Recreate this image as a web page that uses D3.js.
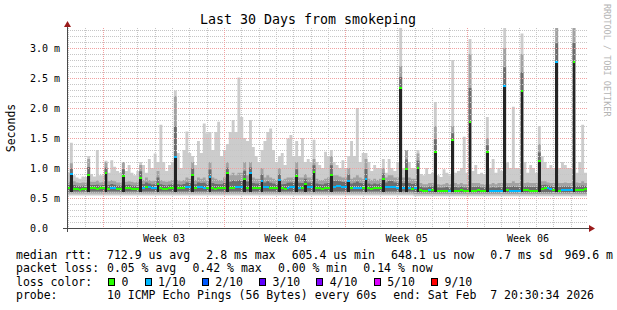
<!DOCTYPE html>
<html>
<head>
<meta charset="utf-8">
<script src="https://cdn.jsdelivr.net/npm/d3@7"></script>
<style>
  html, body { margin: 0; padding: 0; background: #fff; }
  svg { display: block; font-family: "DejaVu Sans Mono", monospace; }
  text { white-space: pre; }
</style>
</head>
<body>
<svg id="chart" width="617" height="310"></svg>
<script>
// 30 days, one value per 4 h step (6 per day), values in ms
const median = [
  0.66, 0.90, 0.65, 0.65, 0.64, 0.65,  0.65, 0.88, 0.66, 0.66, 0.65, 0.66,
  0.66, 0.91, 0.65, 0.67, 0.66, 0.65,  0.65, 0.86, 0.66, 0.66, 0.65, 0.65,
  0.65, 0.84, 0.67, 0.68, 0.68, 0.67,  0.67, 0.73, 0.66, 0.65, 0.65, 0.66,
  0.66, 1.19, 0.66, 0.66, 0.67, 0.68,  0.68, 0.88, 0.66, 0.68, 0.68, 0.67,
  0.66, 0.85, 0.66, 0.65, 0.66, 0.66,  0.66, 0.91, 0.66, 0.67, 0.68, 0.68,
  0.68, 0.81, 0.67, 0.92, 0.66, 0.66,  0.66, 0.78, 0.68, 0.68, 0.67, 0.66,
  0.66, 0.80, 0.66, 0.65, 0.67, 0.68,  0.68, 0.86, 0.67, 0.66, 0.74, 0.68,
  0.68, 0.94, 0.66, 0.66, 0.65, 0.66,  0.66, 0.89, 0.69, 0.70, 0.70, 0.69,
  0.69, 0.78, 0.66, 0.67, 0.67, 0.66,  0.66, 0.82, 0.66, 0.65, 0.66, 0.66,
  0.66, 0.82, 0.68, 0.69, 0.69, 0.68,  0.67, 2.33, 0.66, 0.98, 0.66, 0.65,
  0.66, 1.00, 0.63, 0.62, 0.62, 0.63,  0.63, 1.26, 0.62, 0.62, 0.62, 0.62,
  0.61, 1.46, 0.62, 0.62, 0.63, 0.62,  0.62, 1.77, 0.62, 0.62, 0.63, 0.62,
  0.62, 1.26, 0.61, 0.61, 0.61, 0.61,  0.61, 2.36, 0.63, 0.62, 0.62, 0.62,
  0.62, 2.29, 0.63, 0.63, 0.62, 0.62,  0.62, 1.12, 0.65, 0.66, 0.66, 0.65,
  0.63, 2.76, 0.62, 0.63, 0.63, 0.63,  0.63, 2.77, 0.63, 0.64, 0.64, 0.65
];
// loss colour index per step (0 = no loss, 1 = 1/10 ...)
const lossIdx = [
  0, 1, 0, 0, 0, 0,  0, 0, 0, 0, 0, 0,
  0, 0, 0, 1, 1, 0,  0, 0, 0, 0, 0, 0,
  0, 0, 1, 0, 1, 1,  1, 0, 0, 0, 0, 0,
  0, 1, 0, 0, 0, 1,  1, 0, 0, 1, 1, 1,
  0, 1, 0, 0, 0, 0,  0, 0, 0, 0, 1, 1,
  1, 0, 0, 1, 0, 0,  0, 1, 1, 1, 0, 0,
  0, 1, 0, 0, 1, 1,  1, 0, 1, 0, 0, 1,
  1, 0, 0, 0, 0, 0,  0, 0, 1, 1, 1, 1,
  1, 1, 0, 1, 1, 1,  0, 1, 0, 0, 0, 0,
  0, 0, 1, 1, 1, 1,  1, 0, 1, 0, 1, 0,
  1, 0, 0, 0, 0, 1,  0, 0, 0, 0, 0, 0,
  1, 0, 0, 0, 0, 0,  0, 0, 0, 0, 0, 0,
  0, 0, 1, 1, 1, 1,  1, 1, 0, 1, 1, 1,
  1, 0, 0, 0, 0, 0,  0, 0, 0, 0, 1, 1,
  0, 1, 0, 1, 1, 1,  1, 0, 0, 0, 0, 0
];
// top of the denser (mid grey) smoke
const smokeUpper = [
  0.77, 1.08, 0.78, 0.76, 0.75, 0.76,  0.76, 1.15, 0.77, 0.77, 0.79, 0.76,
  0.77, 1.10, 0.78, 0.80, 0.78, 0.76,  0.76, 1.10, 0.77, 0.78, 0.77, 0.76,
  0.77, 1.05, 0.80, 0.84, 0.80, 0.78,  0.79, 0.95, 0.80, 0.78, 0.77, 0.78,
  0.80, 2.20, 0.80, 0.78, 0.80, 0.84,  0.82, 1.10, 0.80, 0.84, 0.82, 0.84,
  0.80, 1.10, 0.84, 0.82, 0.80, 0.80,  0.84, 1.10, 0.88, 0.92, 0.88, 0.92,
  0.92, 1.10, 0.88, 1.10, 0.84, 0.82,  0.82, 1.00, 0.84, 0.88, 0.84, 0.82,
  0.80, 1.00, 0.80, 0.82, 0.84, 0.84,  0.84, 1.10, 0.84, 0.84, 0.90, 0.84,
  0.84, 1.15, 0.82, 0.80, 0.80, 0.82,  0.84, 1.20, 0.88, 0.88, 0.86, 0.84,
  0.84, 1.00, 0.82, 0.84, 0.88, 0.84,  0.82, 1.15, 0.82, 0.80, 0.82, 0.80,
  0.82, 1.00, 0.84, 0.88, 0.88, 0.84,  0.84, 2.70, 0.84, 1.30, 0.84, 0.82,
  0.82, 1.24, 0.75, 0.73, 0.73, 0.75,  0.75, 1.70, 0.73, 0.72, 0.73, 0.75,
  0.73, 1.70, 0.75, 0.73, 0.75, 0.73,  0.73, 2.90, 0.75, 0.75, 0.75, 0.73,
  0.73, 1.50, 0.73, 0.75, 0.73, 0.75,  0.75, 3.00, 0.75, 0.75, 0.78, 0.75,
  0.75, 2.90, 0.75, 0.76, 0.75, 0.75,  0.75, 1.40, 0.78, 0.78, 0.76, 0.75,
  0.75, 3.40, 0.75, 0.75, 0.76, 0.75,  0.75, 3.40, 0.76, 0.75, 0.78, 0.75
];
// slowest ping (top of the light smoke)
const smokeMax = [
  0.92, 1.42, 0.88, 0.84, 0.82, 0.86,  0.85, 1.20, 0.90, 0.86, 1.30, 0.88,
  0.88, 1.12, 0.92, 1.13, 1.02, 0.95,  0.92, 1.10, 0.95, 1.05, 0.92, 0.88,
  0.95, 1.10, 1.05, 0.92, 1.15, 1.00,  1.24, 1.10, 1.72, 1.10, 0.95, 1.05,
  1.10, 2.29, 1.25, 1.00, 1.30, 1.61,  1.25, 1.20, 1.05, 1.45, 1.25, 1.74,
  1.58, 1.60, 1.30, 1.60, 1.77, 1.20,  1.30, 1.40, 1.60, 1.80, 1.60, 2.51,
  1.85, 1.50, 1.45, 1.80, 1.35, 1.20,  1.10, 1.30, 1.45, 1.60, 1.66, 1.30,
  1.10, 1.20, 1.25, 1.05, 1.49, 1.55,  1.20, 1.45, 1.20, 1.50, 1.10, 1.15,
  1.10, 1.47, 1.10, 1.05, 1.00, 1.27,  1.20, 1.30, 1.10, 1.05, 1.00, 1.13,
  1.00, 1.20, 1.45, 1.20, 2.00, 1.10,  1.25, 1.25, 1.10, 0.95, 1.05, 1.00,
  1.00, 1.15, 0.92, 1.15, 1.00, 0.95,  1.10, 3.40, 1.00, 1.30, 1.10, 1.00,
  1.00, 1.30, 0.90, 0.88, 1.00, 0.90,  0.92, 2.10, 0.88, 0.85, 0.98, 0.92,
  0.88, 2.80, 0.92, 0.95, 1.00, 1.52,  0.92, 3.15, 0.95, 1.05, 0.90, 0.92,
  0.90, 1.85, 1.00, 1.15, 0.92, 1.00,  0.95, 3.40, 1.10, 1.00, 2.02, 1.00,
  1.00, 3.24, 1.10, 0.92, 1.05, 1.00,  0.92, 1.70, 1.20, 1.10, 1.00, 1.05,
  1.00, 3.40, 1.00, 1.10, 1.05, 1.00,  1.00, 3.40, 0.92, 1.10, 1.72, 0.92
];
// fastest ping, one value per day
const smokeLowByDay = [
  0.54, 0.54, 0.54, 0.54, 0.54, 0.54, 0.54, 0.54, 0.54, 0.54,
  0.54, 0.54, 0.54, 0.54, 0.54, 0.54, 0.54, 0.54, 0.54, 0.54,
  0.53, 0.53, 0.53, 0.53, 0.53, 0.53, 0.53, 0.53, 0.53, 0.53
];

const lossLabels = ['0', '1/10', '2/10', '3/10', '4/10', '5/10', '9/10'];
const lossColors = ['#26ff00', '#00b8ff', '#0059ff', '#5e00ff', '#7e00ff', '#dd00ff', '#ff0000'];
const rttStats = ['712.9 us avg', '2.8 ms max', '605.4 us min', '648.1 us now', '0.7 ms sd', '969.6 m'];
const lossStats = ['0.05 % avg', '0.42 % max', '0.00 % min', '0.14 % now'];
const probeInfo = ['10 ICMP Echo Pings (56 Bytes) every 60s', 'end: Sat Feb  7 20:30:34 2026'];
const title = 'Last 30 Days from smokeping';

// time frame of the graph
const HOUR = 3600e3;
const t0 = new Date(Date.UTC(2026, 0, 9, 21, 45));
const t1 = new Date(+t0 + 30 * 24 * HOUR);
const STEP = 4 * HOUR;

const svg = d3.select('#chart');
const x = d3.scaleUtc().domain([t0, t1]).range([67, 587]);
const y = d3.scaleLinear().domain([0, 10 / 3]).range([228, 28]).clamp(true);

const steps = median.map((m, i) => ({
  t: new Date(+t0 + i * STEP),
  t2: new Date(+t0 + (i + 1) * STEP),
  med: m,
  loss: lossIdx[i],
  upper: smokeUpper[i],
  max: smokeMax[i],
  low: smokeLowByDay[Math.floor(i / 6)]
}));
const pts = steps.concat([Object.assign({}, steps[steps.length - 1], { t: t1 })]);

function band(y0, y1) {
  return d3.area().curve(d3.curveStepAfter).x(d => x(d.t)).y0(y0).y1(y1);
}

// smoke
const smoke = svg.append('g').attr('class', 'smoke');
smoke.append('path').datum(pts).attr('fill', '#cccccc')
  .attr('d', band(d => y(d.low), d => y(d.max)));
smoke.append('path').datum(pts).attr('fill', '#a2a2a2')
  .attr('d', band(d => y(d.low) - 2, d => y(d.upper)));
smoke.append('path').datum(pts).attr('fill', '#6c6c6c')
  .attr('d', band(d => y(d.low) - 4, d => y((d.med + d.upper) / 2)));

// grid
const minorColor = '#c6c6c6';
const majorColor = '#f0a0a0';
const grid = svg.append('g').attr('class', 'grid').attr('stroke-width', 1)
  .attr('stroke-dasharray', '1,1').attr('shape-rendering', 'crispEdges');
const majorY = y.ticks(7);
const minorY = y.ticks(33).filter(v => v > 0 && !majorY.some(m => Math.abs(m - v) < 1e-6));
const mondays = d3.utcMonday.range(t0, t1);
const days = d3.utcDay.range(t0, t1).filter(d => d.getUTCDay() !== 1);

function hLines(cls, data, color) {
  grid.selectAll('line.' + cls).data(data).join('line').attr('class', cls)
    .attr('x1', 68).attr('x2', 587)
    .attr('y1', d => Math.round(y(d)) + 0.5).attr('y2', d => Math.round(y(d)) + 0.5)
    .attr('stroke', color);
}
function vLines(cls, data, color) {
  grid.selectAll('line.' + cls).data(data).join('line').attr('class', cls)
    .attr('y1', 28).attr('y2', 228)
    .attr('x1', d => Math.floor(x(d)) + 0.5).attr('x2', d => Math.floor(x(d)) + 0.5)
    .attr('stroke', color);
}
hLines('hmin', minorY, minorColor);
vLines('vmin', days, minorColor);
hLines('hmaj', majorY.filter(v => v > 0), majorColor);
vLines('vmaj', mondays, majorColor);

// spikes: pings below the median piled up dark
svg.append('g').attr('class', 'spikes').selectAll('rect')
  .data(steps.filter(d => d.med > 0.72))
  .join('rect')
  .attr('shape-rendering', 'crispEdges')
  .attr('x', d => x(d.t))
  .attr('width', d => x(d.t2) - x(d.t))
  .attr('y', d => y(d.med))
  .attr('height', d => y(0.6) - y(d.med))
  .attr('fill', '#242424');

// median, coloured by loss
svg.append('g').attr('class', 'median').selectAll('rect')
  .data(steps)
  .join('rect')
  .attr('shape-rendering', 'crispEdges')
  .attr('x', d => x(d.t))
  .attr('width', d => x(d.t2) - x(d.t))
  .attr('y', d => y(d.med) - 1)
  .attr('height', 2)
  .attr('fill', d => lossColors[d.loss]);

// axes
const axisColor = '#4a4a4a';
const arrowColor = '#9b1b1b';
svg.append('line').attr('x1', 63).attr('x2', 590).attr('y1', 228.5).attr('y2', 228.5)
  .attr('stroke', axisColor).attr('shape-rendering', 'crispEdges');
svg.append('line').attr('x1', 67.5).attr('x2', 67.5).attr('y1', 232).attr('y2', 25)
  .attr('stroke', axisColor).attr('shape-rendering', 'crispEdges');
svg.append('path').attr('d', 'M589,225L595,228.5L589,232Z').attr('fill', arrowColor);
svg.append('path').attr('d', 'M64,27L67.5,21L71,27Z').attr('fill', arrowColor);

// y labels
svg.append('g').selectAll('text').data(majorY)
  .join('text')
  .attr('x', 30).attr('y', d => y(d)).attr('dy', '0.35em')
  .attr('font-size', 10).attr('fill', '#000')
  .text(d => d === 0 ? '0.0' : d3.format('.1f')(d) + ' m');

// x labels
const weekFmt = d3.utcFormat('Week %V');
svg.append('g').selectAll('text').data(mondays)
  .join('text')
  .attr('x', d => x(new Date(+d + 3.5 * 24 * HOUR)))
  .attr('y', 241.5)
  .attr('text-anchor', 'middle')
  .attr('font-size', 10).attr('fill', '#000')
  .text(d => weekFmt(d));

// title, axis name, watermark
svg.append('text').attr('x', 308).attr('y', 24).attr('text-anchor', 'middle')
  .attr('font-size', 13.3).attr('fill', '#000').text(title);
svg.append('text').attr('transform', 'translate(15,128) rotate(-90)')
  .attr('text-anchor', 'middle').attr('font-size', 11.5).attr('fill', '#000').text('Seconds');
svg.append('text').attr('transform', 'translate(604,4) rotate(90)')
  .attr('font-size', 8.5).attr('fill', '#b4b4b4').text('RRDTOOL / TOBI OETIKER');

// legend
const legendFont = 11.5;
const GAP = 16.2;
const RIGHT = 613;
const lineY = [258.5, 272, 285.5, 299];
const leg = svg.append('g').attr('font-size', legendFont).attr('fill', '#000');

function textRow(yPos, items, startX) {
  let cx = startX;
  items.forEach(s => {
    const t = leg.append('text').attr('x', cx).attr('y', yPos).text(s);
    const w = t.node().getComputedTextLength();
    if (cx + w > RIGHT) t.attr('x', RIGHT - w);   // squeeze the last item in
    cx += w + GAP;
  });
}
leg.append('text').attr('x', 16).attr('y', lineY[0]).text('median rtt:');
textRow(lineY[0], rttStats, 107);
leg.append('text').attr('x', 16).attr('y', lineY[1]).text('packet loss:');
textRow(lineY[1], lossStats, 107);
leg.append('text').attr('x', 16).attr('y', lineY[2]).text('loss color:');
let lx = 108;
lossLabels.forEach((lab, k) => {
  leg.append('rect').attr('x', lx + 0.5).attr('y', lineY[2] - 7.5).attr('width', 6).attr('height', 7)
    .attr('fill', lossColors[k]).attr('stroke', '#000').attr('stroke-width', 1)
    .attr('shape-rendering', 'crispEdges');
  const t = leg.append('text').attr('x', lx + 13.4).attr('y', lineY[2]).text(lab);
  lx += 13.4 + t.node().getComputedTextLength() + GAP;
});
leg.append('text').attr('x', 16).attr('y', lineY[3]).text('probe:');
textRow(lineY[3], probeInfo, 107);
</script>
</body>
</html>
